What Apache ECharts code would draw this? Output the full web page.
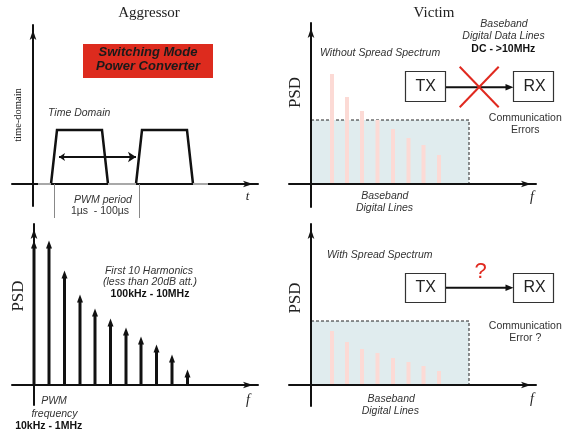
<!DOCTYPE html>
<html><head><meta charset="utf-8">
<script src="https://cdn.jsdelivr.net/npm/echarts@6/dist/echarts.min.js"></script>
<style>html,body{margin:0;padding:0;background:#fff;}#c{width:574px;height:435px;}</style>
</head><body><div id="c"></div>
<script>
// ---- Aggressor, time domain: PWM pulse train (time along t, level) ----
const pulse1Time = [18, 24, 69, 75];
const pulse2Time = [103, 109, 154, 160];
const pulseLevel = [0, 54, 54, 0];
const idleStart = [5, 75, 160];
const idleEnd = [18, 103, 175];
const periodMarks = [21, 106];
const periodArrow = [26, 103];
const periodArrowLevel = 27;
const periodMarkBottom = -34;

// ---- Aggressor, frequency domain: fundamental + first 10 harmonics ----
const harmonicFreq = [0, 15, 30.5, 46, 61, 76.5, 92, 107, 122.5, 138, 153.5];
const harmonicPsd = [137, 137, 107, 83, 69, 59, 50, 41, 33, 23, 8];

// ---- Victim: baseband digital lines ----
const basebandFreq = [21, 36, 51, 66.5, 82, 97.5, 112.5, 128];
const psdWithoutSS = [110, 87, 73, 64, 55, 46, 39, 29];
const psdWithSS = [54, 43, 36, 32, 27, 23, 19, 14];
const basebandBandEdge = [158, 158];   // [without SS, with SS]
const basebandLevel = [64, 64];        // [without SS, with SS]

const SERIF = '"Liberation Serif","Times New Roman",serif';
const SANS = '"Liberation Sans",Arial,sans-serif';

const chart = echarts.init(document.getElementById('c'), null, {renderer: 'canvas'});

const grids = [
  {left: 12, top: 25, width: 246, height: 181},
  {left: 289, top: 23, width: 247, height: 184},
  {left: 12, top: 224, width: 246, height: 181},
  {left: 289, top: 224, width: 247, height: 182}
];
const xr = [[-21, 225], [-22, 225], [-22, 224], [-22, 225]];
const yr = [[-22, 159], [-23, 161], [-20, 161], [-21, 161]];

function axisLine() {
  return {show: true, onZero: true, symbol: ['none', 'arrow'], symbolSize: [5, 10], symbolOffset: [0, -5],
    lineStyle: {color: '#111', width: 2}};
}
const xAxis = grids.map((g, i) => ({
  type: 'value', gridIndex: i, min: xr[i][0], max: xr[i][1], z: 4,
  axisLine: axisLine(), axisTick: {show: false}, axisLabel: {show: false}, splitLine: {show: false}
}));
const yAxis = grids.map((g, i) => ({
  type: 'value', gridIndex: i, min: yr[i][0], max: yr[i][1], z: 4,
  axisLine: axisLine(), axisTick: {show: false}, axisLabel: {show: false}, splitLine: {show: false}
}));

// baseband occupied area: dashed top + right edge, filled down to the f axis
function band(gi, k) {
  return {type: 'line', xAxisIndex: gi, yAxisIndex: gi, z: 1, silent: true, showSymbol: false, symbol: 'none',
    lineStyle: {color: '#222', width: 1, type: [3, 2]},
    areaStyle: {color: '#E0ECEE', opacity: 1},
    data: [[0, basebandLevel[k]], [basebandBandEdge[k], basebandLevel[k]], [basebandBandEdge[k], 0]]};
}

const series = [
  band(1, 0),
  band(3, 1),
  // pulses
  {type: 'lines', coordinateSystem: 'cartesian2d', xAxisIndex: 0, yAxisIndex: 0, polyline: true, z: 5, silent: true,
    lineStyle: {color: '#111', width: 2.5, opacity: 1},
    data: [{coords: pulse1Time.map((t, i) => [t, pulseLevel[i]])},
           {coords: pulse2Time.map((t, i) => [t, pulseLevel[i]])}]},
  // idle (low) segments
  {type: 'lines', coordinateSystem: 'cartesian2d', xAxisIndex: 0, yAxisIndex: 0, z: 6, silent: true,
    lineStyle: {color: '#a8a8a8', width: 2, opacity: 1},
    data: idleStart.map((s, i) => ({coords: [[s, 0], [idleEnd[i], 0]]}))},
  // period markers
  {type: 'lines', coordinateSystem: 'cartesian2d', xAxisIndex: 0, yAxisIndex: 0, z: 5, silent: true, clip: false,
    lineStyle: {color: '#888', width: 1, opacity: 1},
    data: periodMarks.map(m => ({coords: [[m, 0], [m, periodMarkBottom]]}))},
  // period double arrow
  {type: 'lines', coordinateSystem: 'cartesian2d', xAxisIndex: 0, yAxisIndex: 0, z: 5, silent: true,
    symbol: ['arrow', 'arrow'], symbolSize: [6, 8],
    lineStyle: {color: '#111', width: 2, opacity: 1},
    data: [{coords: [[periodArrow[0], periodArrowLevel], [periodArrow[1], periodArrowLevel]]}]},
  // victim without SS
  {type: 'bar', xAxisIndex: 1, yAxisIndex: 1, barWidth: 4, z: 3, silent: true,
    itemStyle: {color: '#FCDAD5'},
    data: basebandFreq.map((f, i) => [f, psdWithoutSS[i]])},
  // harmonics
  {type: 'bar', xAxisIndex: 2, yAxisIndex: 2, barWidth: 3, z: 3, silent: true,
    itemStyle: {color: '#111'},
    data: harmonicFreq.map((f, i) => [f, harmonicPsd[i]])},
  {type: 'scatter', xAxisIndex: 2, yAxisIndex: 2, z: 3, silent: true,
    symbol: 'triangle', symbolSize: [6, 8], symbolOffset: [0, '-45%'],
    itemStyle: {color: '#111', opacity: 1},
    data: harmonicFreq.map((f, i) => [f, harmonicPsd[i]])},
  // victim with SS
  {type: 'bar', xAxisIndex: 3, yAxisIndex: 3, barWidth: 4, z: 3, silent: true,
    itemStyle: {color: '#FCDAD5'},
    data: basebandFreq.map((f, i) => [f, psdWithSS[i]])}
];

function T(text, x, y, o) {
  o = o || {};
  return {type: 'text', x: x, y: y, rotation: o.rot || 0, z: 10, silent: true,
    style: {text: text, fill: o.fill || '#333', fontSize: o.size || 10.5, fontFamily: o.fam || SANS,
      fontStyle: o.it ? 'italic' : 'normal', fontWeight: o.b ? 'bold' : 'normal',
      align: o.align || 'center', verticalAlign: 'middle', textAlign: o.align || 'center', textVerticalAlign: 'middle'}};
}
function box(x, y, w, h) {
  return {type: 'rect', z: 10, silent: true, shape: {x: x, y: y, width: w, height: h},
    style: {fill: '#fff', stroke: '#333', lineWidth: 1.2}};
}
function seg(x1, y1, x2, y2, c, w) {
  return {type: 'line', z: 10, silent: true, shape: {x1: x1, y1: y1, x2: x2, y2: y2}, style: {stroke: c, lineWidth: w}};
}
function head(x, y) {
  return {type: 'polygon', z: 10, silent: true, shape: {points: [[x, y], [x - 8, y - 3.3], [x - 8, y + 3.3]]}, style: {fill: '#111'}};
}

const graphics = [
  T('Aggressor', 149, 13, {fam: SERIF, size: 15, fill: '#222'}),
  T('Victim', 434, 13, {fam: SERIF, size: 15, fill: '#222'}),
  T('time-domain', 18, 115, {fam: SERIF, size: 10.5, rot: Math.PI / 2, fill: '#222'}),
  T('t', 247.5, 196.5, {fam: SERIF, size: 13, it: true, fill: '#222'}),
  T('PSD', 295.5, 92.5, {fam: SERIF, size: 17, rot: Math.PI / 2, fill: '#222'}),
  T('PSD', 19, 296, {fam: SERIF, size: 17, rot: Math.PI / 2, fill: '#222'}),
  T('PSD', 295.5, 298, {fam: SERIF, size: 17, rot: Math.PI / 2, fill: '#222'}),
  T('f', 532, 197.5, {fam: SERIF, size: 14, it: true, fill: '#222'}),
  T('f', 248, 400, {fam: SERIF, size: 14, it: true, fill: '#222'}),
  T('f', 532, 399, {fam: SERIF, size: 14, it: true, fill: '#222'}),
  {type: 'rect', z: 9, silent: true, shape: {x: 83, y: 44, width: 130, height: 34}, style: {fill: '#DD2B1E'}},
  T('Switching Mode', 148, 52.5, {size: 13, it: true, b: true, fill: '#1a1a1a'}),
  T('Power Converter', 148, 66.5, {size: 13, it: true, b: true, fill: '#1a1a1a'}),
  T('Time Domain', 48, 113, {it: true, align: 'left'}),
  T('PWM period', 103, 200, {it: true}),
  T('1\u00b5s  - 100\u00b5s', 100, 211.5, {}),
  T('Without Spread Spectrum', 320, 53.5, {it: true, align: 'left'}),
  T('Baseband', 504, 24.5, {it: true}),
  T('Digital Data Lines', 503.5, 36, {it: true}),
  T('DC - >10MHz', 503.3, 49, {b: true, fill: '#111'}),
  box(405.5, 71.5, 40, 30), box(513.5, 71.5, 40, 30),
  T('TX', 425.8, 87, {size: 16, fill: '#222'}),
  T('RX', 534.5, 87, {size: 16, fill: '#222'}),
  seg(446, 87.3, 507, 87.3, '#111', 2), head(513.5, 87.3),
  seg(459.7, 66.7, 498.7, 107.3, '#E0291F', 2), seg(498.7, 66.7, 459.7, 107.3, '#E0291F', 2),
  T('Communication', 525.3, 118.5, {}),
  T('Errors', 525.3, 130, {}),
  T('Baseband', 384.8, 196, {it: true}),
  T('Digital Lines', 384.5, 208, {it: true}),
  T('First 10 Harmonics', 149, 271, {it: true}),
  T('(less than 20dB att.)', 150, 282.5, {it: true}),
  T('100kHz - 10MHz', 150, 294, {b: true, fill: '#111'}),
  T('PWM', 54, 401, {it: true}),
  T('frequency', 54.5, 414, {it: true}),
  T('10kHz - 1MHz', 48.7, 426, {b: true, fill: '#111'}),
  T('With Spread Spectrum', 327, 255.5, {it: true, align: 'left'}),
  T('?', 480.5, 272, {size: 22, fill: '#E0291F'}),
  box(405.5, 273.5, 40, 29), box(513.5, 273.5, 40, 29),
  T('TX', 425.8, 288, {size: 16, fill: '#222'}),
  T('RX', 534.5, 288, {size: 16, fill: '#222'}),
  seg(446, 287.8, 507, 287.8, '#111', 2), head(513.5, 287.8),
  T('Communication', 525.3, 326.3, {}),
  T('Error ?', 525.3, 338, {}),
  T('Baseband', 391.2, 399.5, {it: true}),
  T('Digital Lines', 390.3, 411, {it: true})
];

chart.setOption({
  animation: false,
  backgroundColor: '#fff',
  grid: grids,
  xAxis: xAxis,
  yAxis: yAxis,
  series: series,
  graphic: {elements: graphics}
});
</script></body></html>
